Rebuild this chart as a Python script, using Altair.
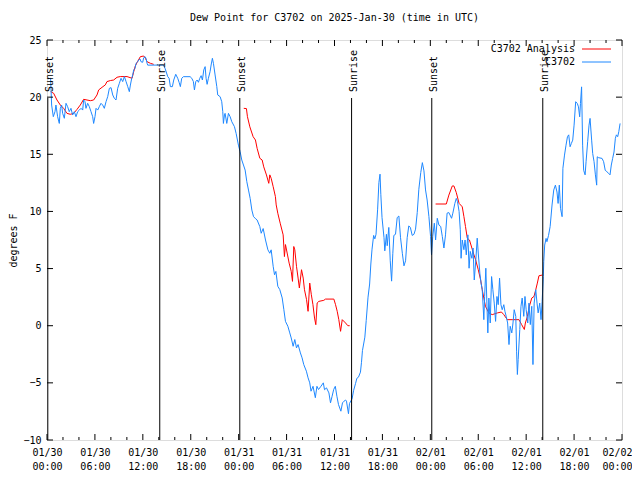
import json
import altair as alt
import pandas as pd

# ---------------- data ----------------
obs_hours = [0.1, 0.45, 0.58, 0.79, 1.0, 1.12, 1.33, 1.54, 1.67, 1.83, 1.96, 2.17, 2.38, 2.58, 2.79, 3.0,
             3.21, 3.42, 3.63, 3.84, 4.05, 4.26, 4.47, 4.59, 4.76, 4.88, 5.09, 5.3, 5.51, 5.72, 5.84,
             6.01, 6.14, 6.35, 6.55, 6.76, 6.97, 7.18, 7.39, 7.6, 7.81, 8.02, 8.23, 8.43, 8.64, 8.85,
             9.06, 9.27, 9.48, 9.69, 9.9, 10.11, 10.31, 10.44, 10.61, 10.73, 10.86, 11.02, 11.15,
             11.36, 11.48, 11.65, 11.77, 11.98, 12.11, 12.28, 12.4, 12.53, 12.61, 14.57, 14.78,
             15.12, 15.29, 15.45, 15.7, 15.87, 16.12, 16.37, 16.54, 16.7, 16.87, 17.08, 17.92,
             18.13, 18.33, 18.46, 18.63, 18.8, 18.96, 19.13, 19.3, 19.46, 19.63, 19.8, 19.92,
             20.05, 20.21, 20.42, 20.55, 20.71, 20.84, 21.05, 21.26, 21.38, 21.68, 21.88, 22.01,
             22.09, 22.22, 22.3, 22.51, 22.72, 22.93, 23.14, 23.47, 23.68, 23.97, 24.18, 24.39,
             24.6, 24.81, 25.02, 25.23, 25.44, 25.65, 25.86, 26.07, 26.31, 26.65, 26.82, 27.07,
             27.36, 27.66, 27.9, 28.07, 28.32, 28.49, 28.66, 28.9, 29.15, 29.45, 29.66, 29.86,
             30.16, 30.4, 30.58, 30.82, 31.03, 31.24, 31.44, 31.73, 31.94, 32.15, 32.48, 32.69,
             32.9, 33.06, 33.31, 33.6, 33.8, 34.0, 34.3, 34.6, 34.75, 35.0, 35.3, 35.5, 35.7,
             35.9, 36.1, 36.3, 36.5, 36.8, 37.0, 37.2, 37.38, 37.5, 37.75, 37.88, 38.2, 38.4,
             38.63, 38.8, 39.0, 39.25, 39.38, 39.5, 39.8, 39.97, 40.2, 40.4, 40.55, 40.7, 40.9,
             41.05, 41.2, 41.4, 41.56, 41.7, 41.8, 41.95, 42.2, 42.3, 42.5, 42.6, 42.8, 42.98,
             43.15, 43.3, 43.43, 43.64, 43.85, 44.06, 44.27, 44.5, 44.7, 44.9, 45.1, 45.3, 45.5,
             45.73, 45.95, 46.15, 46.36, 46.56, 46.8, 47.0, 47.2, 47.4, 47.6, 47.82, 48.03,
             48.15, 48.3, 48.5, 48.66, 48.87, 49.08, 49.3, 49.5, 49.7, 49.9, 50.1, 50.32, 50.66,
             50.82, 51.07, 51.25, 51.4, 51.6, 51.75, 51.85, 52.0, 52.2, 52.35, 52.5, 52.7, 52.85,
             53.0, 53.2, 53.35, 53.5, 53.7, 53.87, 54.0, 54.2, 54.35, 54.5, 54.7, 54.8, 54.95,
             55.1, 55.2, 55.33, 55.5, 55.67, 55.83, 56.0, 56.17, 56.34, 56.5, 56.67, 56.84, 57.0,
             57.2, 57.34, 57.5, 57.68, 57.85, 58.0, 58.2, 58.35, 58.5, 58.7, 58.8, 58.9, 59.0,
             59.2, 59.35, 59.5, 59.7, 59.85, 60.0, 60.2, 60.35, 60.52, 60.7, 60.85, 61.0, 61.2,
             61.36, 61.5, 61.7, 61.86, 62.0, 62.15, 62.2, 62.32, 62.49, 62.6, 62.8, 63.0, 63.24,
             63.45, 63.66, 63.86, 64.0, 64.15, 64.3, 64.5, 64.6, 64.8, 64.99, 65.17, 65.33, 65.5,
             65.66, 65.83, 66.0, 66.2, 66.4, 66.55, 66.7, 66.8, 66.94, 67.07, 67.2, 67.38, 67.5,
             67.7, 67.87, 68.0, 68.2, 68.33, 68.5, 68.67, 68.83, 68.9, 69.08, 69.5, 69.7, 69.9,
             70.1, 70.33, 70.5, 70.66, 70.83, 71.0, 71.17, 71.3, 71.46, 71.6, 71.76]
obs_values = [21.6, 21.65, 19.31, 18.29, 18.73, 19.31, 18.29, 17.7, 19.02, 19.31, 18.58, 18.15, 19.46,
              19.17, 18.73, 19.02, 18.44, 18.73, 18.29, 18.73, 18.87, 19.02, 18.87, 19.75, 19.6,
              19.02, 19.46, 19.17, 18.73, 18.29, 17.7, 18.29, 19.02, 18.87, 19.17, 19.46, 19.31,
              19.02, 19.6, 20.04, 20.77, 20.83, 20.19, 19.9, 19.75, 20.77, 21.21, 21.65, 21.36,
              21.8, 21.36, 20.92, 20.48, 21.06, 21.65, 21.94, 22.38, 22.52, 22.96, 23.1, 23.25,
              23.34, 23.1, 23.05, 23.45, 23.54, 23.4, 22.96, 22.8, 22.81, 22.52, 21.79, 21.65,
              20.92, 20.92, 21.5, 22.0, 21.65, 21.3, 20.92, 21.65, 21.79, 21.79, 21.65, 21.36,
              20.63, 21.36, 21.5, 21.3, 21.65, 21.88, 21.5, 22.38, 22.67, 21.65, 21.12, 21.65,
              22.23, 22.81, 23.4, 22.96, 21.94, 20.92, 20.19, 20.04, 19.6, 18.73, 17.7, 18.44,
              18.58, 17.7, 18.58, 18.29, 17.85, 17.42, 16.83, 15.8, 15.23, 14.5, 14.06, 13.62,
              12.6, 11.87, 11.14, 10.12, 9.54, 9.4, 9.25, 8.67, 8.09, 8.5, 7.5, 6.64, 6.34, 6.64,
              5.2, 4.46, 4.75, 3.45, 3.16, 2.43, 1.4, 0.38, -0.05, -0.63, -1.07, -1.8, -1.21,
              -1.94, -1.65, -2.38, -2.81, -3.4, -3.98, -4.56, -5.0, -5.73, -5.3, -6.3, -5.3,
              -5.58, -5.3, -5.0, -5.6, -5.44, -5.88, -6.75, -6.17, -5.58, -5.3, -6.17, -6.9,
              -7.48, -6.75, -6.6, -6.5, -6.6, -7.7, -6.8, -6.4, -5.65, -5.07, -4.6, -4.5, -4.06,
              -3.2, -2.18, -1.0, 0.45, 2.5, 3.65, 5.4, 6.7, 7.9, 7.6, 8.0, 10.2, 12.53, 13.26,
              11.5, 9.46, 7.7, 6.55, 8.0, 7.0, 8.6, 5.68, 3.9, 6.3, 7.9, 8.0, 9.46, 9.6, 7.7, 6.3,
              5.24, 5.68, 7.7, 8.73, 8.6, 7.9, 8.0, 8.45, 9.9, 11.94, 13.4, 14.27, 13.55, 11.88,
              11.0, 9.56, 7.8, 6.2, 7.8, 8.97, 7.5, 9.4, 8.8, 8.68, 7.8, 6.8, 7.95, 9.85, 9.9,
              9.4, 9.85, 10.7, 11.14, 10.85, 10.0, 8.4, 5.9, 7.5, 6.65, 7.5, 6.2, 7.95, 5.03,
              6.5, 5.9, 6.8, 4.0, 5.77, 7.66, 6.36, 4.6, 3.73, 3.15, 0.53, 2.56, 5.03, 1.55,
              -0.63, 2.42, 0.24, 4.3, 3.15, 1.98, 0.38, 2.56, 1.84, 4.16, 1.84, 1.4, 1.84, 1.26,
              0.82, 0.24, -1.65, -0.05, -0.63, 0.24, 1.4, 0.82, -2.23, -4.27, -2.96, -0.34, 1.7,
              2.42, 0.82, 2.56, 1.4, 0.24, 1.98, 0.1, 1.7, -3.4, 1.98, 3.15, 1.98, 1.12, 1.98,
              0.53, 2.13, 4.3, 5.6, 7.06, 7.64, 7.35, 7.9, 8.67, 10.56, 11.87, 12.3, 11.7, 10.7,
              12.3, 10.27, 9.54, 13.77, 14.93, 15.8, 16.54, 16.7, 15.66, 15.95, 16.24, 17.55,
              19.6, 19.45, 19.15, 18.28, 19.45, 20.9, 15.8, 13.6, 13.2, 14.35, 16.1, 17.55,
              18.14, 16.24, 15.07, 14.35, 13.2, 12.3, 14.78, 14.7, 14.64, 14.35, 13.6, 13.48,
              13.33, 13.2, 14.06, 14.64, 15.2, 16.4, 16.7, 16.54, 16.98, 17.7]

ana_hours = [0.45, 0.83, 1.25, 1.67, 2.08, 2.5, 2.92, 3.34, 3.76, 4.17, 4.59, 5.01, 5.43, 5.84, 6.26,
             6.47, 6.89, 7.3, 7.51, 7.93, 8.35, 8.77, 9.18, 10.02, 10.65, 10.86, 11.06, 11.27,
             11.69, 12.11, 12.32, 12.53, 12.95, 13.36,
             24.64, 24.97, 25.1, 25.4, 25.81, 26.1, 26.31, 26.65, 26.94, 27.14, 27.48, 27.77,
             27.9, 28.07, 28.32, 28.6, 28.7, 28.9, 29.2, 29.57, 29.73, 29.86, 30.07, 30.32,
             30.58, 30.74, 30.9, 31.03, 31.24, 31.44, 31.6, 31.87, 32.08, 32.24, 32.5, 32.69,
             32.9, 33.1, 33.3, 33.5, 33.66, 33.83, 34.04, 34.66, 34.87, 35.92, 36.13, 36.34,
             36.54, 36.76, 36.97, 37.38, 37.67, 37.9,
             48.66, 50.0, 50.32, 50.75, 50.95, 51.25, 51.6, 51.8, 52.0, 52.2, 52.4, 52.63, 52.9,
             53.2, 53.46, 53.67, 54.0, 54.3, 54.5, 54.7, 54.9, 55.33, 55.75, 56.4, 56.9, 57.2,
             57.64, 58.26, 59.1, 59.43, 59.77, 59.9, 60.15, 60.4, 60.7, 60.98, 61.2, 61.4,
             61.6, 62.0]
ana_values = [20.48, 20.34, 19.75, 19.31, 19.02, 18.58, 18.5, 18.58, 18.93, 19.31, 19.81, 19.75,
              19.69, 19.75, 20.19, 20.63, 20.86, 21.07, 21.36, 21.45, 21.5, 21.74, 21.8, 21.8,
              21.65, 22.23, 22.73, 23.02, 23.54, 23.6, 23.4, 23.1, 22.96, 22.87,
              19.02, 19.0, 18.29, 17.4, 16.54, 16.25, 15.52, 14.65, 14.5, 13.9, 13.19, 12.46,
              13.2, 12.9, 12.17, 11.3, 10.57, 9.84, 8.97, 7.95, 6.05, 7.1, 6.36, 5.48, 4.76,
              3.88, 6.93, 6.64, 5.2, 4.17, 3.3, 4.9, 4.17, 3.15, 2.28, 1.26, 3.73, 2.71, 1.84,
              0.67, 0.09, 1.99, 2.13, 2.22, 2.33, 2.33, 1.84, 1.26, 0.53, -0.49, 0.53, 0.24,
              0.0, 0.0,
              10.65, 10.65, 11.43, 12.23, 12.23, 11.65, 10.7, 10.56, 10.4, 9.56, 8.68, 7.66, 7.5,
              6.8, 6.2, 5.77, 4.9, 4.0, 3.15, 2.42, 1.7, 1.12, 0.97, 1.12, 1.2, 0.97, 0.53, 0.53,
              0.53, 0.1, -0.33, 0.24, 0.8, 1.7, 2.42, 2.56, 3.15, 3.73, 4.37, 4.43]
ana_segment = [1] * 34 + [2] * 54 + [3] * 40

sun_hours = [0.1, 14.12, 24.14, 38.14, 48.18, 62.08]
sun_labels = ["Sunset", "Sunrise", "Sunset", "Sunrise", "Sunset", "Sunrise"]

x_major_ticks = [0, 6, 12, 18, 24, 30, 36, 42, 48, 54, 60, 66, 72]
x_minor_ticks = [2, 4, 8, 10, 14, 16, 20, 22, 26, 28, 32, 34, 38, 40, 44, 46, 50, 52, 56, 58,
                 62, 64, 68, 70]
tick_dates = ["01/30", "01/30", "01/30", "01/30", "01/31", "01/31", "01/31", "01/31",
              "02/01", "02/01", "02/01", "02/01", "02/02"]
tick_times = ["00:00", "06:00", "12:00", "18:00", "00:00", "06:00", "12:00", "18:00",
              "00:00", "06:00", "12:00", "18:00", "00:00"]
y_ticks = [-10, -5, 0, 5, 10, 15, 20, 25]

series_names = ["C3702 Analysis", "C3702"]
series_colors = ["#ff0000", "#1e88ff"]

TITLE = "Dew Point for C3702 on 2025-Jan-30 (time in UTC)"
FONT = "DejaVu Sans Mono"

W, H = 575, 400

# ---------------- tables ----------------
obs = pd.DataFrame({"hour": obs_hours, "value": obs_values})
ana = pd.DataFrame({"hour": ana_hours, "value": ana_values, "seg": ana_segment})
sun = pd.DataFrame({"hour": sun_hours, "label": sun_labels})
xmaj = pd.DataFrame({"hour": x_major_ticks})
xmin = pd.DataFrame({"hour": x_minor_ticks})
yt = pd.DataFrame({"value": y_ticks})

xscale = alt.Scale(domain=[0, 72], nice=False, zero=False)
yscale = alt.Scale(domain=[-10, 25], nice=False, zero=False)

label_expr = ("[" + json.dumps(tick_dates) + "[round(datum.value/6)], "
              + json.dumps(tick_times) + "[round(datum.value/6)]]")

x_axis = alt.Axis(values=x_major_ticks, labelExpr=label_expr, ticks=False, tickSize=0,
                  domain=False, grid=False, labelPadding=7, labelLineHeight=14,
                  labelFont=FONT, labelFontSize=10, labelColor="black", title=None,
                  labelFlush=False, labelOverlap=False, labelBaseline="top",
                  labelOffset={"condition": {"test": "datum.value >= 72", "value": -5},
                               "value": 0})
y_axis = alt.Axis(values=y_ticks, ticks=False, tickSize=0, domain=False, grid=False,
                  labelPadding=6, labelFont=FONT, labelFontSize=10, labelColor="black",
                  title="degrees F", titleFont=FONT, titleFontSize=10, titleFontWeight="normal",
                  titleColor="black", titlePadding=4)

base_x = alt.X("hour:Q", scale=xscale, axis=x_axis)
base_y = alt.Y("value:Q", scale=yscale, axis=y_axis)

ana_line = alt.Chart(ana).mark_line(color=series_colors[0], strokeWidth=1).encode(
    x=base_x, y=base_y, detail="seg:N")
obs_line = alt.Chart(obs).mark_line(color=series_colors[1], strokeWidth=1).encode(
    x=base_x, y=base_y)

sun_rules = alt.Chart(sun).mark_rule(color="black", strokeWidth=1).encode(
    x=base_x, y=alt.value(58), y2=alt.value(H))
sun_text = alt.Chart(sun).mark_text(angle=270, align="left", baseline="middle", font=FONT,
                                    fontSize=10, color="black", dy=2).encode(
    x=base_x, y=alt.value(52), text="label:N")

def tick_layer(df, length, bottom):
    if bottom:
        return alt.Chart(df).mark_rule(color="black").encode(
            x=base_x, y=alt.value(H), y2=alt.value(H - length))
    return alt.Chart(df).mark_rule(color="black").encode(
        x=base_x, y=alt.value(0), y2=alt.value(length))

def ytick_layer(left):
    if left:
        return alt.Chart(yt).mark_rule(color="black").encode(
            y=base_y, x=alt.value(0), x2=alt.value(6))
    return alt.Chart(yt).mark_rule(color="black").encode(
        y=base_y, x=alt.value(W), x2=alt.value(W - 6))

legend_layers = []
for i, (name, col) in enumerate(zip(series_names, series_colors)):
    ly = 9 + 13 * i
    legend_layers.append(
        alt.Chart(pd.DataFrame({"name": [name]})).mark_text(
            align="right", baseline="middle", font=FONT, fontSize=10, color="black").encode(
            text="name:N", x=alt.value(528), y=alt.value(ly)))
    legend_layers.append(
        alt.Chart(pd.DataFrame({"name": [name]})).mark_rule(color=col, strokeWidth=1).encode(
            x=alt.value(535), x2=alt.value(564), y=alt.value(ly)))

chart = alt.layer(
    ana_line, obs_line, sun_rules, sun_text,
    tick_layer(xmaj, 6, True), tick_layer(xmin, 3, True),
    tick_layer(xmaj, 6, False), tick_layer(xmin, 3, False),
    ytick_layer(True), ytick_layer(False),
    *legend_layers,
).properties(
    width=W, height=H,
    title=alt.TitleParams(TITLE, font=FONT, fontSize=10, fontWeight="normal", color="black",
                          anchor="middle", offset=12),
    padding={"left": 39, "top": 32, "right": 10, "bottom": 30},
    autosize=alt.AutoSizeParams(type="none"),
).configure_view(stroke="black", strokeWidth=1).configure(background="white")

chart.save("out.html", embed_options={"renderer": "svg", "actions": False})
